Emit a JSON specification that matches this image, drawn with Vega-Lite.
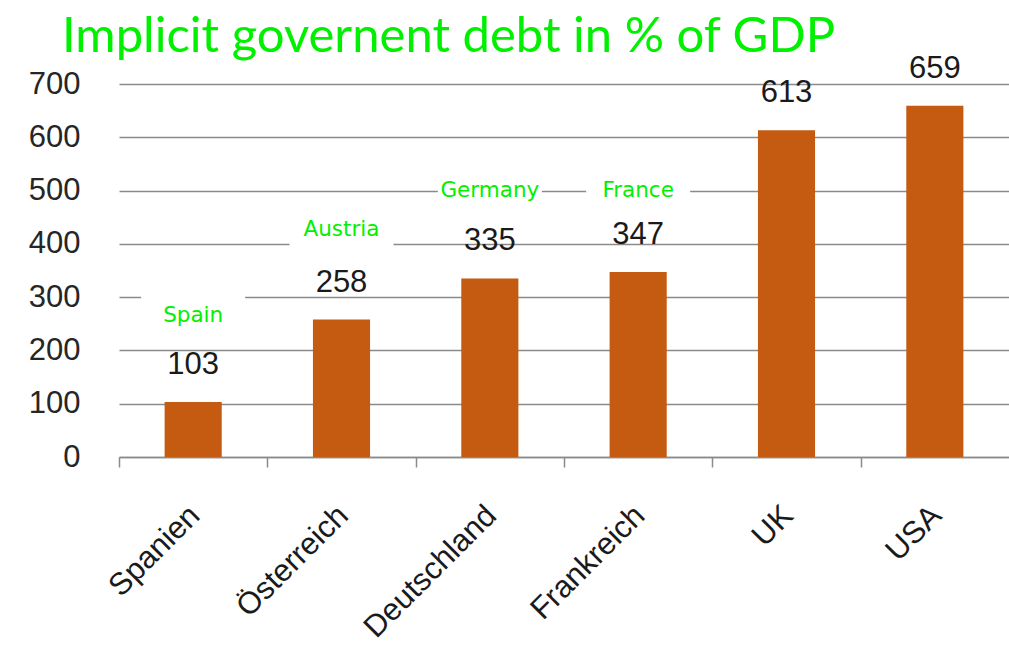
{
  "$schema": "https://vega.github.io/schema/vega-lite/v6.json",
  "autosize": "none",
  "width": 890,
  "height": 373,
  "padding": {"left": 119, "top": 84, "right": 0, "bottom": 195},
  "background": "white",
  "title": {
    "text": "Implicit governent debt in % of GDP",
    "anchor": "start",
    "frame": "group",
    "dx": -57,
    "offset": -48,
    "font": "Lato",
    "fontSize": 49,
    "fontWeight": "normal",
    "color": "#00f000",
    "baseline": "alphabetic"
  },
  "config": {"view": {"stroke": null}},
  "data": {
    "values": [
      {"country": "Spanien", "debt": 103, "label": "Spain", "labelY": 253},
      {"country": "Österreich", "debt": 258, "label": "Austria", "labelY": 415},
      {"country": "Deutschland", "debt": 335, "label": "Germany", "labelY": 488},
      {"country": "Frankreich", "debt": 347, "label": "France", "labelY": 487},
      {"country": "UK", "debt": 613},
      {"country": "USA", "debt": 659}
    ]
  },
  "encoding": {
    "x": {
      "field": "country",
      "type": "nominal",
      "sort": null,
      "scale": {"paddingInner": 0.615, "paddingOuter": 0.3075},
      "axis": {
        "title": null,
        "labelAngle": -45,
        "labelAlign": "right",
        "labelBaseline": "top",
        "labelFont": "Liberation Sans",
        "labelFontSize": 31,
        "labelColor": "#1a1a1a",
        "labelPadding": 33,
        "labelOffset": 65,
        "tickOffset": -74.15,
        "tickSize": 10,
        "tickColor": "#8a8a8a",
        "tickWidth": 1.5,
        "domainColor": "#8a8a8a",
        "domainWidth": 1.5,
        "grid": false
      }
    }
  },
  "layer": [
    {
      "mark": {"type": "bar", "color": "#C55A11"},
      "encoding": {
        "y": {
          "field": "debt",
          "type": "quantitative",
          "scale": {"domain": [0, 700]},
          "axis": {
            "title": null,
            "values": [0, 100, 200, 300, 400, 500, 600, 700],
            "grid": true,
            "gridColor": "#8a8a8a",
            "gridWidth": 1.5,
            "domain": false,
            "ticks": false,
            "labelFont": "Liberation Sans",
            "labelFontSize": 31,
            "labelColor": "#262626",
            "labelPadding": 39
          }
        }
      }
    },
    {
      "mark": {"type": "text", "dy": -28, "baseline": "alphabetic", "font": "Liberation Sans", "fontSize": 31, "fill": "#1a1a1a"},
      "encoding": {
        "y": {"field": "debt", "type": "quantitative"},
        "text": {"field": "debt", "type": "quantitative"}
      }
    },
    {
      "transform": [{"filter": "datum.label"}],
      "mark": {"type": "point", "shape": "M-1,-0.55H1V0.2H-1Z", "size": 10816, "filled": true, "fill": "white", "opacity": 1, "strokeWidth": 0},
      "encoding": {
        "y": {"field": "labelY", "type": "quantitative"}
      }
    },
    {
      "transform": [{"filter": "datum.label"}],
      "mark": {"type": "text", "baseline": "alphabetic", "font": "DejaVu Sans", "fontSize": 21.5, "fill": "#00f000"},
      "encoding": {
        "y": {"field": "labelY", "type": "quantitative"},
        "text": {"field": "label", "type": "nominal"}
      }
    }
  ]
}
